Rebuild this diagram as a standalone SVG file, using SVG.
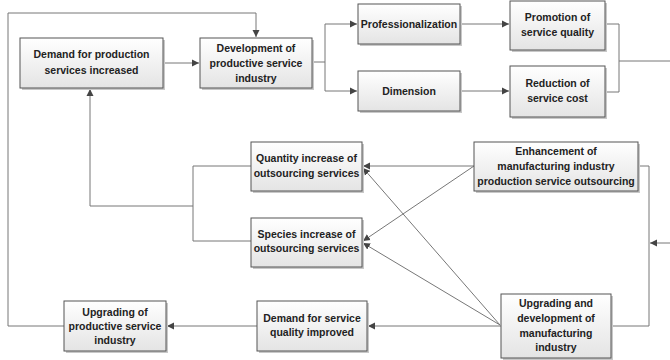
<svg xmlns="http://www.w3.org/2000/svg" width="670" height="360" viewBox="0 0 670 360">
<style>
.box{fill:url(#g);stroke:#555;stroke-width:1}
.sh{fill:#c8c8c8}
.t{font-family:"Liberation Sans",Arial,sans-serif;font-weight:bold;font-size:10.5px;fill:#222;text-anchor:middle}
.c{fill:none;stroke:#777;stroke-width:1}
.a{marker-end:url(#ah)}
</style>
<defs>
<linearGradient id="g" x1="0" y1="0" x2="0" y2="1">
<stop offset="0" stop-color="#ffffff"/>
<stop offset="1" stop-color="#e4e4e4"/>
</linearGradient>
<marker id="ah" markerWidth="8" markerHeight="8" refX="7" refY="4" orient="auto" markerUnits="userSpaceOnUse">
<path d="M0,0.5 L7,4 L0,7.5 z" fill="#444"/>
</marker>
</defs>
<g id="connectors">
<path class="c a" d="M8,326 V13 H256 V37"/>
<path class="c a" d="M163,63 H199"/>
<path class="c" d="M312,62 H325 M325,24 V91"/>
<path class="c a" d="M325,24 H357"/>
<path class="c a" d="M325,91 H357"/>
<path class="c a" d="M460,24 H509"/>
<path class="c a" d="M460,91 H509"/>
<path class="c" d="M605,24 H619 V92 H605 M619,61 H670"/>
<path class="c a" d="M90,206 V89"/>
<path class="c" d="M90,206 H193 M193,166 V241 M193,166 H251 M193,241 H251"/>
<path class="c a" d="M474,166 H363"/>
<path class="c a" d="M474,166 L363,241"/>
<path class="c a" d="M500,325 L363,168"/>
<path class="c a" d="M500,325 L363,243"/>
<path class="c" d="M638,166 H649 V326 H611"/>
<path class="c a" d="M670,243 H650"/>
<path class="c a" d="M501,326 H368"/>
<path class="c a" d="M257,326 H167"/>
<path class="c" d="M64,326 H8"/>
</g>
<g id="n1"><rect class="sh" x="22" y="40" width="143" height="50"/><rect class="box" x="20" y="38" width="143" height="50"/><text class="t" x="91.5" y="58">Demand for production</text><text class="t" x="91.5" y="74">services increased</text></g>
<g id="n2"><rect class="sh" x="202" y="40" width="112" height="50"/><rect class="box" x="200" y="38" width="112" height="50"/><text class="t" x="256" y="52">Development of</text><text class="t" x="256" y="67">productive service</text><text class="t" x="256" y="82">industry</text></g>
<g id="n3"><rect class="sh" x="360" y="6" width="102" height="40"/><rect class="box" x="358" y="4" width="102" height="40"/><text class="t" x="409" y="28">Professionalization</text></g>
<g id="n4"><rect class="sh" x="512" y="3" width="95" height="49"/><rect class="box" x="510" y="1" width="95" height="49"/><text class="t" x="557.5" y="21">Promotion of</text><text class="t" x="557.5" y="36">service quality</text></g>
<g id="n5"><rect class="sh" x="360" y="73" width="102" height="40"/><rect class="box" x="358" y="71" width="102" height="40"/><text class="t" x="409" y="95">Dimension</text></g>
<g id="n6"><rect class="sh" x="512" y="68" width="95" height="51"/><rect class="box" x="510" y="66" width="95" height="51"/><text class="t" x="557.5" y="87">Reduction of</text><text class="t" x="557.5" y="102">service cost</text></g>
<g id="n7"><rect class="sh" x="253" y="144" width="111" height="49"/><rect class="box" x="251" y="142" width="111" height="49"/><text class="t" x="306.5" y="162">Quantity increase of</text><text class="t" x="306.5" y="177">outsourcing services</text></g>
<g id="n8"><rect class="sh" x="253" y="220" width="111" height="49"/><rect class="box" x="251" y="218" width="111" height="49"/><text class="t" x="306.5" y="238">Species increase of</text><text class="t" x="306.5" y="252">outsourcing services</text></g>
<g id="n9"><rect class="sh" x="476" y="144" width="164" height="49"/><rect class="box" x="474" y="142" width="164" height="49"/><text class="t" x="556" y="155">Enhancement of</text><text class="t" x="556" y="170">manufacturing industry</text><text class="t" x="556" y="185">production service outsourcing</text></g>
<g id="n10"><rect class="sh" x="66" y="303" width="102" height="50"/><rect class="box" x="64" y="301" width="102" height="50"/><text class="t" x="115" y="316">Upgrading of</text><text class="t" x="115" y="330">productive service</text><text class="t" x="115" y="344">industry</text></g>
<g id="n11"><rect class="sh" x="259" y="303" width="110" height="50"/><rect class="box" x="257" y="301" width="110" height="50"/><text class="t" x="312" y="322">Demand for service</text><text class="t" x="312" y="336">quality improved</text></g>
<g id="n12"><rect class="sh" x="503" y="296" width="110" height="64"/><rect class="box" x="501" y="294" width="110" height="64"/><text class="t" x="556" y="307">Upgrading and</text><text class="t" x="556" y="322">development of</text><text class="t" x="556" y="337">manufacturing</text><text class="t" x="556" y="351">industry</text></g>
</svg>
